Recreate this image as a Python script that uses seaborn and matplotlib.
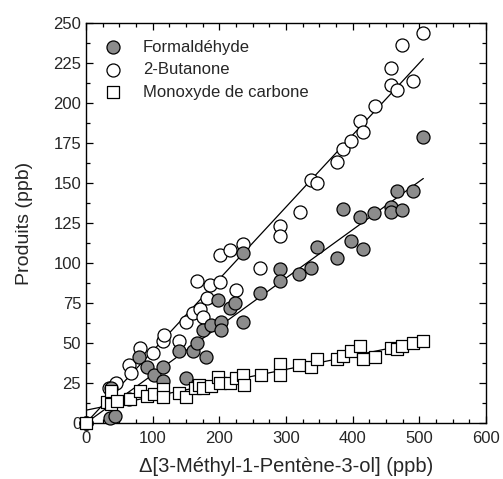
import matplotlib
matplotlib.use('Agg')
import matplotlib.pyplot as plt
from matplotlib.ticker import MultipleLocator
import seaborn as sns
import numpy as np
import pandas as pd

# values (ppb)
formal_x = [0, 36, 43, 37, 65, 80, 91, 102, 116, 116, 140, 150, 161, 166, 176, 180, 187, 198, 202, 202,
            216, 224, 236, 236, 261, 291, 291, 320, 337, 346, 377, 386, 397, 411, 416, 432, 457, 458,
            466, 474, 491, 506]
formal_y = [0, 3, 4.5, 22, 15, 41, 35, 30, 35, 26, 45, 28, 45, 50, 58, 41, 61, 77, 63, 58,
            72, 75, 106, 63, 81, 96, 89, 93, 97, 110, 103, 134, 114, 129, 109, 131, 135, 132,
            145, 133, 145, 179]

butan_x = [0, 34, 45, 65, 67, 81, 101, 116, 117, 140, 150, 161, 171, 175, 181, 186, 201, 166, 225,
           201, 216, 235, 261, 291, 291, 321, 338, 347, 377, 386, 397, 411, 416, 433, 458, 458,
           466, 474, 491, 505]
butan_y = [0, 22, 25, 36, 31, 47, 44, 51, 55, 51, 63, 69, 71, 66, 78, 86, 88, 89, 83,
           105, 108, 112, 97, 123, 117, 132, 152, 150, 163, 171, 176, 189, 182, 198, 222, 211,
           208, 236, 214, 244]

co_x = [0, 32, 38, 37, 47, 66, 81, 91, 102, 116, 116, 140, 150, 163, 170, 175, 187, 198, 201, 216,
        225, 236, 237, 262, 291, 291, 320, 337, 346, 377, 386, 397, 411, 416, 433, 458, 466,
        474, 491, 506]
co_y = [0, 13, 12, 20, 14, 15, 20, 17, 18, 21, 16, 19, 16, 22, 24, 22, 23, 29, 25, 25,
        28, 30, 24, 30, 37, 30, 36, 35, 40, 40, 42, 45, 48, 40, 41, 47, 46,
        48, 50, 51]

# linear fits as drawn on the chart: (intercept, slope, x_end)
formal_fit = (0.0, 0.302, 506)
butan_fit = (0.0, 0.450, 506)
co_fit = (8.0, 0.085, 506)

labels = ['Formaldéhyde', '2-Butanone', 'Monoxyde de carbone']

sns.set_style('ticks')
plt.rcParams['font.family'] = ['Liberation Sans', 'DejaVu Sans']
plt.rcParams['xtick.direction'] = 'in'
plt.rcParams['ytick.direction'] = 'in'

fig = plt.figure(figsize=(5.03, 4.79), dpi=100)
ax = fig.add_axes([86 / 503, 56 / 479, 400 / 503, 400 / 479])

for b, m, xe in [formal_fit, butan_fit, co_fit]:
    xs = np.array([0, xe])
    ax.plot(xs, b + m * xs, color='black', lw=0.9, zorder=1)

df_b = pd.DataFrame({'x': butan_x, 'y': butan_y})
df_f = pd.DataFrame({'x': formal_x, 'y': formal_y})
df_c = pd.DataFrame({'x': co_x, 'y': co_y})

sns.scatterplot(data=df_b, x='x', y='y', ax=ax, marker='o', s=88, color='white',
                edgecolor='black', linewidth=0.9, zorder=2, label=labels[1], clip_on=False)
sns.scatterplot(data=df_f, x='x', y='y', ax=ax, marker='o', s=88, color='#8c8c8c',
                edgecolor='black', linewidth=0.9, zorder=3, label=labels[0], clip_on=False)
sns.scatterplot(data=df_c, x='x', y='y', ax=ax, marker='s', s=75, color='white',
                edgecolor='black', linewidth=0.9, zorder=4, label=labels[2], clip_on=False)

handles, labs = ax.get_legend_handles_labels()
order = [labs.index(l) for l in labels]
ax.legend([handles[i] for i in order], [labs[i] for i in order], loc='upper left',
          bbox_to_anchor=(0.0175, 0.975), borderaxespad=0, frameon=False, fontsize=12,
          handlelength=1.6, handletextpad=1.0, labelspacing=0.45, scatterpoints=1)

ax.set_xlim(0, 600)
ax.set_ylim(0, 250)
ax.xaxis.set_major_locator(MultipleLocator(100))
ax.xaxis.set_minor_locator(MultipleLocator(25))
ax.yaxis.set_major_locator(MultipleLocator(25))
ax.yaxis.set_minor_locator(MultipleLocator(12.5))
ax.tick_params(which='both', top=True, right=True, labelsize=12, width=0.9, color='black')
ax.tick_params(which='major', length=5)
ax.tick_params(which='minor', length=3)
ax.tick_params(axis='x', which='major', pad=6)
for sp in ax.spines.values():
    sp.set_linewidth(1.0)
    sp.set_color('black')

ax.set_xlabel('Δ[3-Méthyl-1-Pentène-3-ol] (ppb)', fontsize=14.5)
ax.set_ylabel('Produits (ppb)', fontsize=14)
ax.xaxis.set_label_coords(0.5, -0.085)
ax.yaxis.set_label_coords(-0.133, 0.5)

fig.savefig('out.png', dpi=100)
